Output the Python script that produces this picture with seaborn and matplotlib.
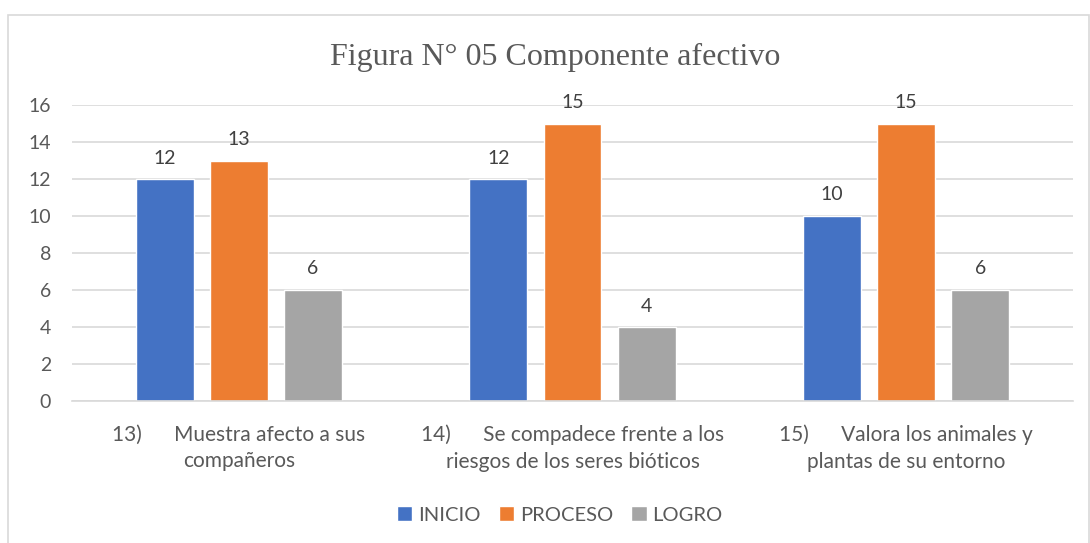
import matplotlib
matplotlib.use("Agg")
import matplotlib.pyplot as plt
import pandas as pd
import seaborn as sns
from matplotlib.patches import Rectangle

# chart data
items = ["13)      Muestra afecto a sus\ncompañeros",
         "14)      Se compadece frente a los\nriesgos de los seres bióticos",
         "15)      Valora los animales y\nplantas de su entorno"]
inicio = [12, 12, 10]
proceso = [13, 15, 15]
logro = [6, 4, 6]
levels = ["INICIO", "PROCESO", "LOGRO"]
colors = ["#4472C4", "#ED7D31", "#A5A5A5"]
yticks = [0, 2, 4, 6, 8, 10, 12, 14, 16]

df = pd.DataFrame({"item": items * 3,
                   "nivel": [levels[0]] * 3 + [levels[1]] * 3 + [levels[2]] * 3,
                   "valor": inicio + proceso + logro})

sns.set_theme(style="white")
plt.rcParams["font.family"] = ["Lato", "DejaVu Sans"]
text_col = "#595959"

fig = plt.figure(figsize=(10.9, 5.43), dpi=100)
ax = fig.add_axes([72 / 1090, 1 - 401 / 543, (1073 - 72) / 1090, (401 - 105) / 543])

sns.barplot(data=df, x="item", y="valor", hue="nivel", hue_order=levels,
            palette=colors, width=0.667, gap=0.22, saturation=1, ax=ax,
            legend=True)

for cont in ax.containers:
    ax.bar_label(cont, padding=9, fontsize=14, color="#404040")

ax.set_ylim(0, 16)
ax.set_yticks(yticks)
ax.yaxis.grid(True, color="#D9D9D9", linewidth=1.2)
ax.set_axisbelow(True)
for s in ["top", "right", "left"]:
    ax.spines[s].set_visible(False)
ax.spines["bottom"].set_color("#D9D9D9")
ax.spines["bottom"].set_linewidth(1.2)
ax.tick_params(axis="y", length=0, labelsize=14, colors=text_col, pad=15)
ax.tick_params(axis="x", length=0, labelsize=15, colors=text_col, pad=17)
ax.set_xlabel("")
ax.set_ylabel("")
for lab in ax.get_xticklabels():
    lab.set_linespacing(1.4)

ax.legend(loc="center", bbox_to_anchor=(0.4875, -(515 - 401) / 296), ncol=3, frameon=False,
          fontsize=14.5, handlelength=0.75, handleheight=0.75, handletextpad=0.3,
          columnspacing=0.9, labelcolor=text_col)

fig.text(555 / 1090, 1 - 57 / 543, "Figura N° 05 Componente afectivo", ha="center", va="center",
         fontsize=23, color=text_col, family=["Liberation Serif", "DejaVu Serif"])

fig.patches.append(Rectangle((8 / 1090, -0.05), (1089 - 8) / 1090, 1 - 15 / 543 + 0.05,
                             transform=fig.transFigure, fill=False,
                             edgecolor="#D9D9D9", linewidth=1.2))

fig.savefig("out.png", dpi=100, facecolor="white")
